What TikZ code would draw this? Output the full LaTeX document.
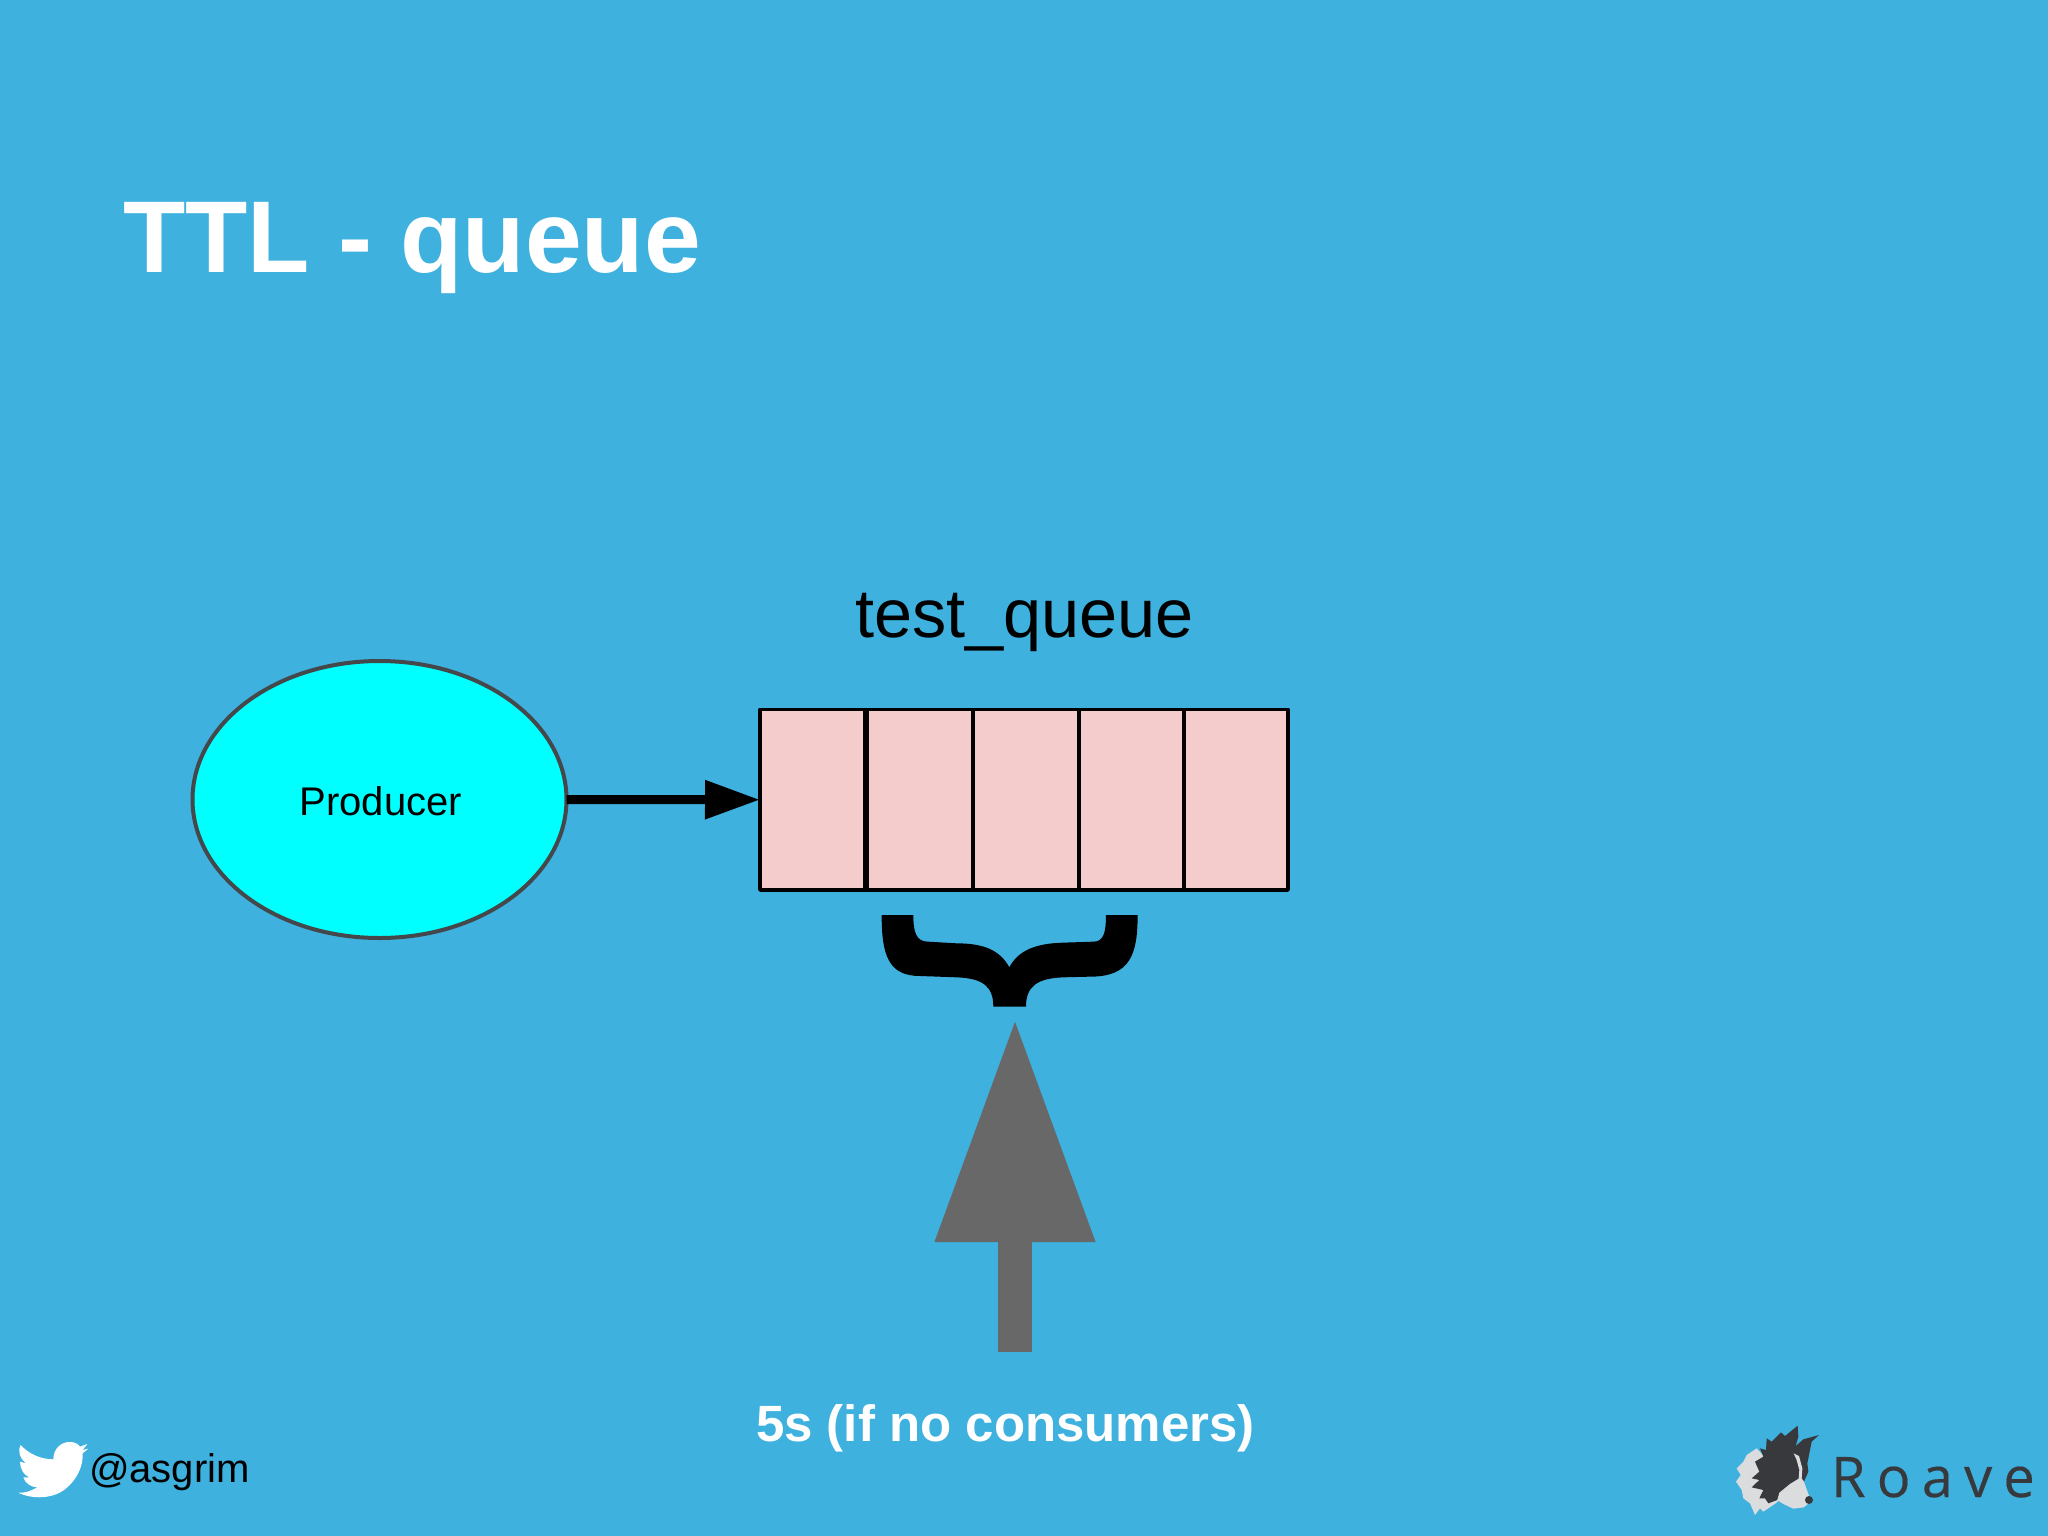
\documentclass[tikz,border=0pt]{standalone}
\usepackage{fontspec}
\setmainfont{Liberation Sans}
\newfontfamily\roavefont[LetterSpace=20,FakeBold=0.25]{Open Sans}
\usetikzlibrary{arrows.meta,shapes.geometric}
\definecolor{bgblue}{HTML}{3EB1DF}
\definecolor{cellpink}{HTML}{F4CCCC}
\definecolor{prodcyan}{HTML}{00FFFF}
\definecolor{ttlgray}{HTML}{696869}
\definecolor{dogdark}{HTML}{37393C}
\definecolor{doglight}{HTML}{DADCDE}
\tikzset{
  txt/.style={inner sep=0pt,outer sep=0pt,anchor=base west},
  queuecell/.style={draw=black,fill=cellpink,line width=3.5pt,line join=round,inner sep=0pt,outer sep=0pt},
  divider/.style={draw=black},
}
\newcommand{\fsz}[1]{\fontsize{#1}{#1}\selectfont}
\begin{document}
\begin{tikzpicture}[x=1pt,y=-1pt]
\useasboundingbox (0,0) rectangle (2048,1536);
\fill[bgblue] (0,0) rectangle (2048,1536);

\node[txt,text=white,font=\bfseries\fsz{102}] (title) at (123,272) {TTL - queue};
\node[txt,text=black,font=\fsz{68.5}] (qname) at (855,637) {test\_queue};

\node[draw={rgb,255:red,68;green,72;blue,74},fill=prodcyan,line width=4pt,ellipse,
  minimum width=374pt,minimum height=277pt,inner sep=0pt,outer sep=0pt,
  font=\fsz{40}] (producer) at (379.5,799.5) {\hspace{2.6pt}\raisebox{-1.3pt}[\height][\depth]{Producer}};

\node[queuecell,minimum width=528pt,minimum height=180.5pt] (queue) at (1024,799.75) {};
\draw[divider,line width=6pt] (866,709.5) -- (866,890);
\draw[divider,line width=4pt] (973,709.5) -- (973,890);
\draw[divider,line width=4pt] (1079,709.5) -- (1079,890);
\draw[divider,line width=4pt] (1184,709.5) -- (1184,890);

\draw[line width=9pt,-{Triangle[length=55pt,width=37pt]}] (producer.east) -- (queue.west);

% brace
\begin{scope}[shift={(840,880)},x=0.3333pt,y=-0.3333pt]
\fill[black] (125,105) -- (220,105)
  .. controls (220,160) and (230,185) .. (265,185)
  -- (350,190)
  .. controls (430,190) and (480,210) .. (508,262)
  .. controls (535,210) and (590,190) .. (670,188)
  -- (760,185)
  .. controls (790,185) and (798,160) .. (798,105)
  -- (893,105)
  .. controls (893,225) and (870,290) .. (750,290)
  -- (670,292)
  .. controls (590,295) and (558,320) .. (558,380)
  -- (460,380)
  .. controls (460,320) and (430,295) .. (350,292)
  -- (240,288)
  .. controls (145,288) and (125,225) .. (125,105) -- cycle;
\end{scope}

% TTL arrow
\coordinate (ttlfoot) at (1015,1352);
\coordinate (ttltip) at (1015,1018);
\draw[ttlgray,line width=34pt,-{Triangle[length=224pt,width=151pt]}] (ttlfoot) -- (ttltip);

\node[txt,text=white,font=\bfseries\fsz{51}] (ttllabel) at (756,1441) {5s (if no consumers)};

% twitter bird
\begin{scope}[shift={(0,1400)},x=0.3333pt,y=-0.3333pt]
\fill[white] (160,178)
  .. controls (160,145) and (185,125) .. (210,126)
  .. controls (225,126) and (235,132) .. (240,140)
  -- (262,132) -- (248,150) -- (265,146) -- (248,160)
  .. controls (250,200) and (230,240) .. (195,268)
  .. controls (160,295) and (100,300) .. (55,278)
  .. controls (75,280) and (95,272) .. (112,262)
  .. controls (95,262) and (75,250) .. (70,232)
  -- (88,232)
  .. controls (70,225) and (60,205) .. (60,185)
  -- (78,190)
  .. controls (60,175) and (52,155) .. (62,135)
  .. controls (85,160) and (120,178) .. (160,178) -- cycle;
\end{scope}
\node[txt,text=black,font=\fsz{40}] (handle) at (89,1482) {@asgrim};

% Roave dog
\begin{scope}[shift={(1700,1400)},x=0.3333pt,y=-0.3333pt]
\fill[doglight] (170,145) -- (140,165) -- (130,185) -- (110,205) -- (122,225) -- (108,245)
  -- (125,270) -- (130,295) -- (150,310) -- (165,345) -- (180,325) -- (190,335)
  -- (220,315) -- (240,300) -- (220,200) -- cycle;
\fill[dogdark] (180,145) -- (198,150) -- (200,115) -- (215,125) -- (243,97) -- (255,108)
  -- (293,77) -- (295,110) -- (287,138) -- (310,118) -- (357,105) -- (335,125)
  -- (328,160) -- (322,190) -- (325,215) -- (312,245) -- (270,260) -- (240,285)
  -- (232,300) -- (205,310) -- (195,295) -- (178,295) -- (190,270) -- (155,262)
  -- (178,240) -- (155,235) -- (178,215) -- (165,185) -- (190,170) -- cycle;
\fill[doglight] (238,278) -- (270,252) -- (296,236) -- (298,210) -- (290,180) -- (281,160)
  -- (297,168) -- (307,205) -- (305,235) -- (312,245) -- (326,285) -- (336,300) -- (312,322)
  -- (280,326) -- (250,312) -- (232,300) -- cycle;
\fill[dogdark] (327,300) circle[radius=12];
\end{scope}
\node[txt,text=dogdark,font=\roavefont\fsz{56}] (roave) at (1831,1497) {Roave};
\end{tikzpicture}
\end{document}
